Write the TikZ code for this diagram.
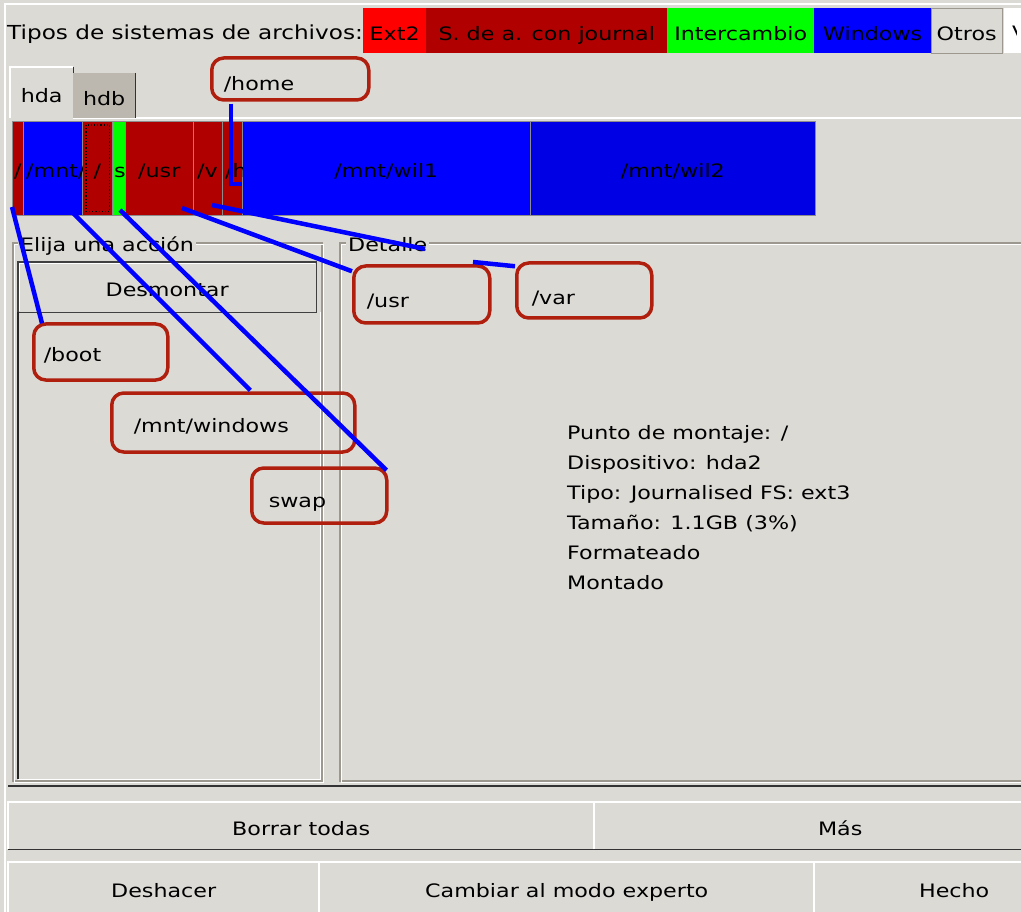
\documentclass[tikz,border=0pt]{standalone}
\usepackage{fontspec}
\setmainfont{DejaVu Sans}[FakeStretch=1.2]
\usetikzlibrary{calc}
\definecolor{bg}{HTML}{DCDAD5}
\definecolor{ext2}{HTML}{FF0000}
\definecolor{jour}{HTML}{B00000}
\definecolor{swapc}{HTML}{00FF00}
\definecolor{winc}{HTML}{0000FF}
\definecolor{winb}{HTML}{0000E4}
\definecolor{hdbc}{HTML}{BDB8AF}
\definecolor{cored}{HTML}{B01E0E}
\definecolor{etch}{HTML}{9C9890}
\newcommand\myfs{\fontsize{18.5}{22}\selectfont}
\newcommand\bevel[1]{\draw[hi] (#1.south west) |- (#1.north east); \draw[lo] (#1.south west) -| (#1.north east);}
\begin{document}
\begin{tikzpicture}[x=1pt,y=-1pt,
  every node/.style={inner sep=0pt, font=\myfs},
  box/.style={anchor=north west, text height=19, text depth=0},
  leg/.style={box, minimum height=45},
  seg/.style={box, minimum height=94, draw=black!45, line width=0.6},
  btn/.style={box, fill=bg},
  hi/.style={white, line width=1.5},
  lo/.style={black!80, line width=1.5},
  callout/.style={draw=cored, line width=3.5pt, rounded corners=12pt, align=left, inner ysep=0pt, anchor=base west},
  conn/.style={draw=winc, line width=4.5pt},
  frm/.style={draw=etch, line width=1.2}
]
\clip (0,0) rectangle (1021,912);
\fill[bg] (0,0) rectangle (1021,912);
\draw[white, line width=1.5] (5,912) -- (5,4) -- (1021,4);

% legend
\node[anchor=base west, font=\fontsize{19.3}{22}\selectfont] (lgtitle) at (7,40) {Tipos de sistemas de archivos:};
\node[leg, fill=ext2, minimum width=63] (lext2) at (363,8) {Ext2};
\node[leg, fill=jour, minimum width=241] (ljour) at (426,8) {S. de a. con journal};
\node[leg, fill=swapc, minimum width=147] (lswap) at (667,8) {Intercambio};
\node[leg, fill=winc, minimum width=117] (lwin) at (814,8) {Windows};
\node[leg, fill=bg, draw=etch, minimum width=71] (lotros) at (931,8) {Otros};
\fill[white] (1004,8) rectangle (1021,53);
\begin{scope}
\clip (1004,8) rectangle (1016,53);
\node[anchor=base west] (lvac) at (1012,40) {V};
\end{scope}

% tabs
\draw[hi] (73,118) -- (1021,118);
\node[btn, minimum width=63, minimum height=51] (hda) at (10,67) {hda};
\draw[hi] (hda.south west) |- (hda.north east);
\draw[black!80, line width=1.5] (hda.north east) -- (hda.south east);
\node[btn, fill=hdbc, minimum width=62, minimum height=45] (hdb) at (73,73) {hdb};
\draw[black!80, line width=1.5] (hdb.north east) -- (hdb.south east);

% partition bar
\node[seg, fill=jour, minimum width=11] (sboot) at (12,121) {};
\node[seg, fill=winc, minimum width=59] (smnt) at (23,121) {};
\node[seg, fill=jour, minimum width=30] (sroot) at (82,121) {/};
\node[seg, fill=swapc, minimum width=13] (sswap) at (112,121) {};
\node[seg, fill=jour, minimum width=68] (susr) at (125,121) {/usr};
\node[seg, fill=jour, minimum width=29] (svar) at (193,121) {};
\node[seg, fill=jour, minimum width=20] (shome) at (222,121) {};
\node[seg, fill=winc, minimum width=288] (swil1) at (242,121) {/mnt/wil1};
\node[seg, fill=winb, minimum width=285] (swil2) at (530,121) {/mnt/wil2};
\draw[dotted, line width=1.2] ($(sroot.north west)+(4,4)$) rectangle ($(sroot.south east)+(-3,-4)$);
\begin{scope}\clip (sboot.north west) rectangle (sboot.south east);
\node[anchor=base west] (tboot) at (14,178) {/};\end{scope}
\begin{scope}\clip (smnt.north west) rectangle (smnt.south east);
\node[anchor=base west] (tmnt) at (26,178) {/mnt/};\end{scope}
\begin{scope}\clip (sswap.north west) rectangle (sswap.south east);
\node[anchor=base west] (tswap) at (114,178) {s};\end{scope}
\begin{scope}\clip (svar.north west) rectangle (svar.south east);
\node[anchor=base west] (tvar) at (197,178) {/v};\end{scope}
\begin{scope}\clip (shome.north west) rectangle (shome.south east);
\node[anchor=base west] (thome) at (225,178) {/h};\end{scope}

% frames
\draw[frm] (13,243) rectangle (322,781);
\draw[white, line width=1] (14.5,244.5) rectangle (323.5,782.5);
\draw[frm] (340,243) rectangle (1030,781);
\draw[white, line width=1] (341.5,244.5) rectangle (1031.5,782.5);
\node[anchor=base west, fill=bg, inner xsep=2pt] (lelija) at (18,252) {Elija una acción};
\node[anchor=base west, fill=bg, inner xsep=2pt] (ldet) at (346,252) {Detalle};

% Desmontar + list
\node[btn, minimum width=298, minimum height=50] (desm) at (18,262) {Desmontar};
\draw[hi] ($(desm.south west)+(1.5,-1.5)$) |- ($(desm.north east)+(-1.5,1.5)$);
\draw[black!75, line width=1.5] (desm.north west) rectangle (desm.south east);
\draw[black!85, line width=2] (18,312) -- (18,779);
\draw[white, line width=1] (18,779) -- (320,779) -- (320,312);

% detail text
\foreach \t [count=\i] in {Punto de montaje: /, Dispositivo: hda2, Tipo: Journalised FS: ext3, Tamaño: 1.1GB (3\%), Formateado, Montado}
  \node[anchor=base west] (det\i) at (567,{439+30*(\i-1)}) {\t};

% separator and buttons
\draw[black!80, line width=1.8] (8,786) -- (1021,786);
\node[btn, minimum width=586, minimum height=47] (borrar) at (8,802) {Borrar todas};
\node[btn, minimum width=492, minimum height=47] (mas) at (594,802) {Más};
\node[btn, minimum width=311, minimum height=51] (desh) at (8,862) {Deshacer};
\node[btn, minimum width=495, minimum height=51] (camb) at (319,862) {Cambiar al modo experto};
\node[btn, minimum width=280, minimum height=51] (hecho) at (814,862) {Hecho};
\bevel{borrar}\bevel{mas}\bevel{desh}\bevel{camb}\bevel{hecho}

% callouts
\node[callout, inner xsep=12, text width=133, text height=33, text depth=9] (home) at (210,91) {/home};
\node[callout, inner xsep=13, text width=110, text height=42, text depth=15] (usr) at (352,308) {/usr};
\node[callout, inner xsep=15, text width=105, text height=42, text depth=13] (var) at (515,305) {/var};
\node[callout, inner xsep=10, text width=114, text height=38, text depth=18] (boot) at (32,362) {/boot};
\node[callout, inner xsep=22, text width=199, text height=39, text depth=20] (win) at (110,432) {/mnt/windows};
\node[callout, inner xsep=17, text width=101, text height=39, text depth=16] (swap) at (250,507) {swap};

% connectors
\coordinate (pboot) at (12,207);
\coordinate (pwin) at (72,212);
\coordinate (pswap) at (120,210);
\coordinate (pusr) at (182,208);
\coordinate (pvar) at (212,205);
\coordinate (vb1) at (425,249);
\coordinate (vb2) at (473,262);
\coordinate (phome) at (242,184);
\draw[conn] (pboot) -- ($(boot.north west)+(10,1)$);
\draw[conn] (pwin) -- ($(win.north)+(17,-1)$);
\draw[conn] (pswap) -- ($(swap.north east)+(-2,4)$);
\draw[conn] (pusr) -- ($(usr.north west)+(0,7)$);
\draw[conn] (pvar) -- (vb1) (vb2) -- ($(var.north west)+(0,5)$);
\draw[conn] ($(home.south west)+(21,2)$) |- (phome);
\end{tikzpicture}
\end{document}
